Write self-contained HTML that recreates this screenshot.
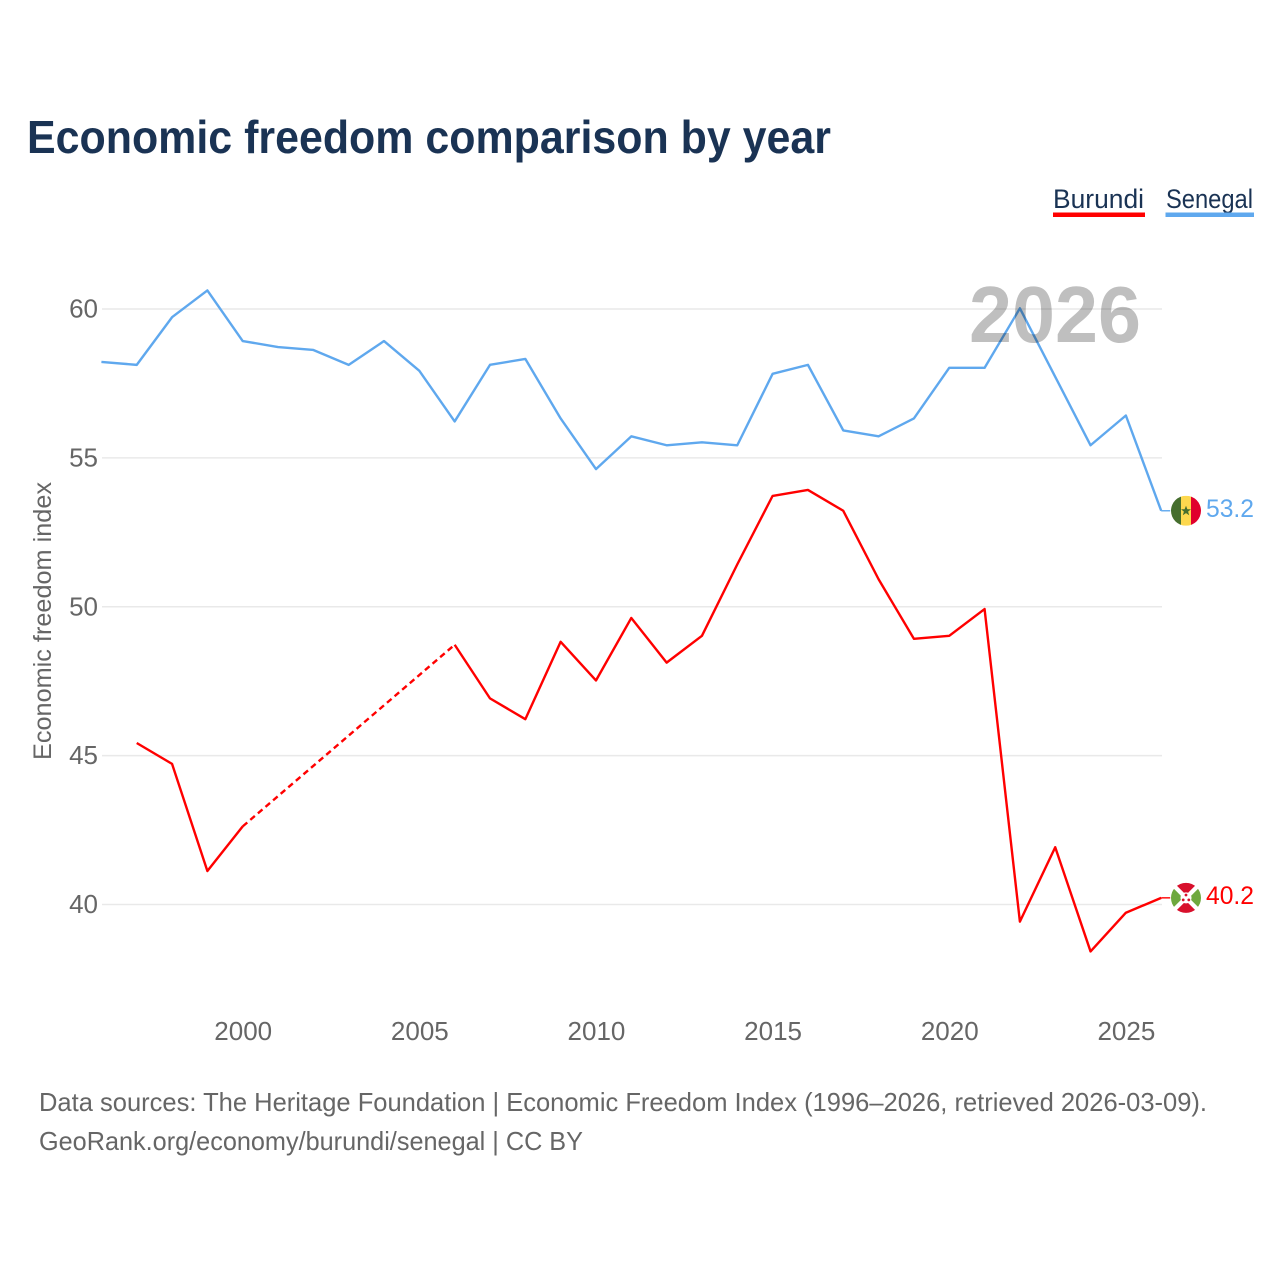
<!DOCTYPE html>
<html lang="en">
<head>
<meta charset="utf-8">
<title>Economic freedom comparison by year</title>
<style>
html,body{margin:0;padding:0;background:#fff;}
svg{display:block;font-family:"Liberation Sans",sans-serif;}
</style>
</head>
<body>
<svg id="chart" width="1280" height="1280" viewBox="0 0 1280 1280" xmlns="http://www.w3.org/2000/svg">
  <defs>
    <clipPath id="flag-clip"><circle cx="0" cy="0" r="15"></circle></clipPath>
  </defs>
  <rect x="0" y="0" width="1280" height="1280" fill="#ffffff"></rect>
  <text x="27" y="153" font-size="46" font-weight="700" fill="#1a3354" textLength="804" lengthAdjust="spacingAndGlyphs">Economic freedom comparison by year</text>

  <g>
    <g>
      <text x="1053" y="208" font-size="27" fill="#1a3354" textLength="91" lengthAdjust="spacingAndGlyphs">Burundi</text>
      <rect x="1053" y="212.5" width="92" height="4.5" fill="#ff0000"></rect>
    </g>
    <g>
      <text x="1166" y="208" font-size="27" fill="#1a3354" textLength="87" lengthAdjust="spacingAndGlyphs">Senegal</text>
      <rect x="1165.5" y="212.5" width="88.5" height="4.5" fill="#5fa8ee"></rect>
    </g>
  </g>

  <g id="grid"></g>
  <g id="y-ticks"></g>
  <g id="x-ticks"></g>
  <text transform="translate(51,621) rotate(-90)" text-anchor="middle" font-size="25" fill="#666666" textLength="278" lengthAdjust="spacingAndGlyphs">Economic freedom index</text>
  <g id="series"></g>
  <g id="flag-marks"></g>

  <text x="969" y="342" font-size="80" font-weight="700" fill="#000000" fill-opacity="0.25" textLength="172" lengthAdjust="spacingAndGlyphs">2026</text>

  <text x="39" y="1111" font-size="26" fill="#666666" textLength="1168" lengthAdjust="spacingAndGlyphs">Data sources: The Heritage Foundation | Economic Freedom Index (1996–2026, retrieved 2026-03-09).</text>
  <text x="39" y="1150" font-size="26" fill="#666666" textLength="544" lengthAdjust="spacingAndGlyphs">GeoRank.org/economy/burundi/senegal | CC BY</text>
</svg>
<script>
const years = [1996,1997,1998,1999,2000,2001,2002,2003,2004,2005,2006,2007,2008,2009,2010,2011,2012,2013,2014,2015,2016,2017,2018,2019,2020,2021,2022,2023,2024,2025,2026];
const senegalValues = [58.2,58.1,59.7,60.6,58.9,58.7,58.6,58.1,58.9,57.9,56.2,58.1,58.3,56.3,54.6,55.7,55.4,55.5,55.4,57.8,58.1,55.9,55.7,56.3,58.0,58.0,60.0,57.7,55.4,56.4,53.2];
const burundiValues = [null,45.4,44.7,41.1,42.6,null,null,null,null,null,48.7,46.9,46.2,48.8,47.5,49.6,48.1,49.0,51.4,53.7,53.9,53.2,50.9,48.9,49.0,49.9,39.4,41.9,38.4,39.7,40.2];
const yTickValues = [40,45,50,55,60];
const xTickValues = [2000,2005,2010,2015,2020,2025];

const NS = 'http://www.w3.org/2000/svg';
function xScale(year){ return 101.4 + (year - 1996) * (1161.2 - 101.4) / 30; }
function yScale(value){ return 904.5 - (value - 40) * (904.5 - 309) / 20; }
function make(tag, parent, attrs){
  const el = document.createElementNS(NS, tag);
  for (const k in attrs) el.setAttribute(k, attrs[k]);
  parent.appendChild(el);
  return el;
}

const gridG = document.getElementById('grid');
const yG = document.getElementById('y-ticks');
yTickValues.forEach(function(v){
  const line = make('line', gridG, {x1:102, x2:1162, y1:yScale(v), y2:yScale(v), stroke:'#e9e9e9', 'stroke-width':1.5});
  
  
  const t = make('text', yG, {x:98, y:yScale(v)+8.5, 'text-anchor':'end', 'font-size':26, fill:'#666666'});
  
  
  t.textContent = v;
});

const xG = document.getElementById('x-ticks');
xTickValues.forEach(function(y){
  const t = make('text', xG, {x:xScale(y)+0.5, y:1040, 'text-anchor':'middle', 'font-size':26, fill:'#666666'});
  
  
  t.textContent = y;
});

function drawSeries(name, values, color){
  const group = make('g', document.getElementById('series'), {});
  
  
  let solid = '';
  let dashed = '';
  let prev = -1;
  values.forEach(function(v, i){
    if (v === null) return;
    const px = xScale(years[i]).toFixed(2) + ' ' + (yScale(v) - 0.7).toFixed(2);
    if (prev === -1) {
      solid += 'M' + px;
    } else if (prev === i - 1) {
      solid += 'L' + px;
    } else {
      dashed += 'M' + xScale(years[prev]).toFixed(2) + ' ' + (yScale(values[prev]) - 0.7).toFixed(2) + 'L' + px;
      solid += 'M' + px;
    }
    prev = i;
  });
  const lastY = yScale(values[prev]) - 0.7;
  const solidPath = make('path', group, {d:solid, fill:'none', stroke:color, 'stroke-width':2.4, 'stroke-linejoin':'round'});
  
  
  const tail = make('line', group, {x1:xScale(years[prev]), x2:xScale(years[prev]) + 9, y1:lastY, y2:lastY, stroke:color, 'stroke-width':1.4});
  
  
  if (dashed) {
    const dashPath = make('path', group, {d:dashed, fill:'none', stroke:color, 'stroke-width':2.4, 'stroke-dasharray':'6 4'});
    
    
  }
  return {y:lastY, value:values[prev]};
}

function drawFlag(name, y, painter){
  const g = make('g', document.getElementById('flag-marks'), {transform:'translate(1186,' + y + ')'});
  
  
  const inner = make('g', g, {'clip-path':'url(#flag-clip)'});
  painter(inner);
}

function drawValueLabel(name, end, color){
  const t = make('text', document.getElementById('flag-marks'), {x:1254, y:end.y+6, 'text-anchor':'end', 'font-size':25, fill:color, textLength:48, lengthAdjust:'spacingAndGlyphs'});
  
  
  t.textContent = end.value.toFixed(1);
}

const burundiEnd = drawSeries('burundi', burundiValues, '#ff0000');
const senegalEnd = drawSeries('senegal', senegalValues, '#5fa8ee');

drawFlag('senegal', senegalEnd.y, function(g){
  make('rect', g, {x:-15, y:-15, width:10, height:30, fill:'#466e2e'});
  make('rect', g, {x:-5, y:-15, width:10, height:30, fill:'#fdd84e'});
  make('rect', g, {x:5, y:-15, width:10, height:30, fill:'#e0002d'});
  make('polygon', g, {points:'0,-5 1.4,-1.5 5,-1.5 2.1,0.8 3.2,4.5 0,2.3 -3.2,4.5 -2.1,0.8 -5,-1.5 -1.4,-1.5', fill:'#466e2e'});
});
drawFlag('burundi', burundiEnd.y, function(g){
  make('rect', g, {x:-15, y:-15, width:30, height:30, fill:'#ffffff'});
  make('polygon', g, {points:'-13,-16 13,-16 0,-3', fill:'#d8102c'});
  make('polygon', g, {points:'-13,16 13,16 0,3', fill:'#d8102c'});
  make('polygon', g, {points:'-16,-13 -16,13 -3,0', fill:'#6ea83e'});
  make('polygon', g, {points:'16,-13 16,13 3,0', fill:'#6ea83e'});
  make('circle', g, {cx:0, cy:0, r:5.5, fill:'#ffffff'});
  make('circle', g, {cx:0, cy:-2.8, r:1.4, fill:'#d8102c'});
  make('circle', g, {cx:-2.8, cy:2, r:1.4, fill:'#d8102c'});
  make('circle', g, {cx:2.8, cy:2, r:1.4, fill:'#d8102c'});
});

drawValueLabel('senegal', senegalEnd, '#5fa8ee');
drawValueLabel('burundi', burundiEnd, '#ff0000');
</script>
</body>
</html>
